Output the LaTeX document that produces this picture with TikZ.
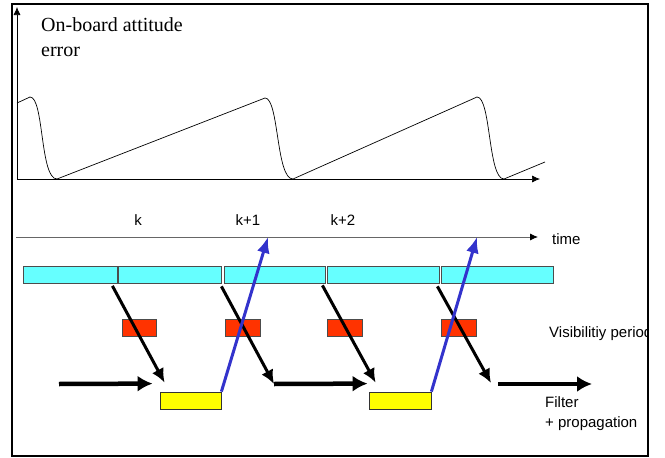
\documentclass[tikz,border=0pt]{standalone}
\usepackage{fontspec}
\setmainfont{Liberation Serif}
\setsansfont{Liberation Sans}
\usetikzlibrary{arrows.meta}
\definecolor{wincyan}{HTML}{66FFFF}
\definecolor{visred}{HTML}{FF3300}
\definecolor{filtyellow}{HTML}{FFFF00}
\definecolor{updblue}{HTML}{3333CC}

\begin{document}
\begin{tikzpicture}[x=1pt,y=-1pt,>=Latex,
  win/.style={draw=black!70,line width=0.8pt,fill=wincyan,minimum height=17pt,inner sep=0pt},
  vis/.style={draw=black!70,line width=0.8pt,fill=visred,minimum height=17pt,inner sep=0pt},
  filt/.style={draw=black!80,line width=0.8pt,fill=filtyellow,minimum height=17pt,inner sep=0pt},
  pass/.style={line width=3pt,-{Latex[length=14pt,width=13pt]}},
  flow/.style={line width=4.5pt,-{Latex[length=15pt,width=16pt]}},
  upd/.style={draw=updblue,line width=3pt,-{Latex[length=16pt,width=13pt]}},
  lbl/.style={font={\sffamily\fontsize{15}{19.5}\selectfont},inner sep=0pt}]
\useasboundingbox (0,0) rectangle (665,458);
\draw[line width=0.7pt,-{Latex[length=8pt,width=7pt]}] (17,179) -- (17,7);
\draw[line width=0.7pt,-{Latex[length=8pt,width=7pt]}] (17,179) -- (540,179);
\draw[line width=0.7pt] (17,103) -- (30,97) .. controls (44,97) and (40,179) .. (57,179) -- (265,98)
  .. controls (279,98) and (276,179) .. (293,179) -- (477,97)
  .. controls (491,97) and (488,179) .. (504,179) -- (545,162);
\node[font={\fontsize{20}{25}\selectfont},align=left,anchor=north west,inner sep=0pt] (lerr) at (41,17.5) {On-board attitude\\error};
\coordinate (t0) at (16,237);
\coordinate (tend) at (538,237);
\coordinate (tk1) at (268,237);
\coordinate (tk3) at (477,237);
\draw[black!60,line width=0.8pt,-{Latex[length=8pt,width=7pt,color=black]}] (t0) -- (tend);
\node[lbl,anchor=base] (lk) at (138,225) {k};
\node[lbl,anchor=base] (lk1) at (248,225) {k+1};
\node[lbl,anchor=base] (lk2) at (343,225) {k+2};
\node[lbl,anchor=base west] (ltime) at (552,244.5) {time};
\node[win,minimum width=94pt] (w1) at (70,274.5) {};
\node[win,minimum width=103pt] (w2) at (169.5,274.5) {};
\node[win,minimum width=101pt] (w3) at (274.5,274.5) {};
\node[win,minimum width=112pt] (w4) at (383,274.5) {};
\node[win,minimum width=112pt] (w5) at (497,274.5) {};
\node[vis,minimum width=34pt] (v1) at (139,327.5) {};
\node[vis,minimum width=35pt] (v2) at (242.5,327.5) {};
\node[vis,minimum width=35pt] (v3) at (344.5,327.5) {};
\node[vis,minimum width=35pt] (v4) at (458.5,327.5) {};
\node[filt,minimum width=61pt] (f1) at (190.5,400.5) {};
\node[filt,minimum width=62pt] (f2) at (400,400.5) {};
\begin{scope}
\clip (12,4) rectangle (647,456);
\node[lbl,anchor=base west] (lvis) at (549,337) {Visibilitiy period};
\end{scope}
\node[lbl,align=left,anchor=north west] (lfilt) at (545,396.5) {Filter\\+ propagation};
\coordinate (m1) at (274,384);
\coordinate (m2) at (491,383);
\coordinate (h1s) at (59,384);
\coordinate (h3s) at (498,384);
\coordinate (h3e) at (592,384);
\draw[pass] ([xshift=-5pt,yshift=-2.5pt]w1.south east) -- ([xshift=5pt,yshift=9pt]f1.north west);
\draw[pass] ([yshift=-3pt]w2.south east) -- (m1);
\draw[pass] ([xshift=-3pt,yshift=-2pt]w3.south east) -- ([xshift=7pt,yshift=9pt]f2.north west);
\draw[pass] ([xshift=-2pt,yshift=-3pt]w4.south east) -- (m2);
\draw[flow] (h1s) -- ([xshift=-7pt,yshift=8pt]f1.north west);
\draw[flow] (m1) -- ([xshift=-1pt,yshift=8pt]f2.north west);
\draw[flow] (h3s) -- (h3e);
\draw[upd] (f1.north east) -- (tk1);
\draw[upd] (f2.north east) -- (tk3);
\draw[line width=2pt] (12,4) rectangle (648,456);
\end{tikzpicture}
\end{document}
